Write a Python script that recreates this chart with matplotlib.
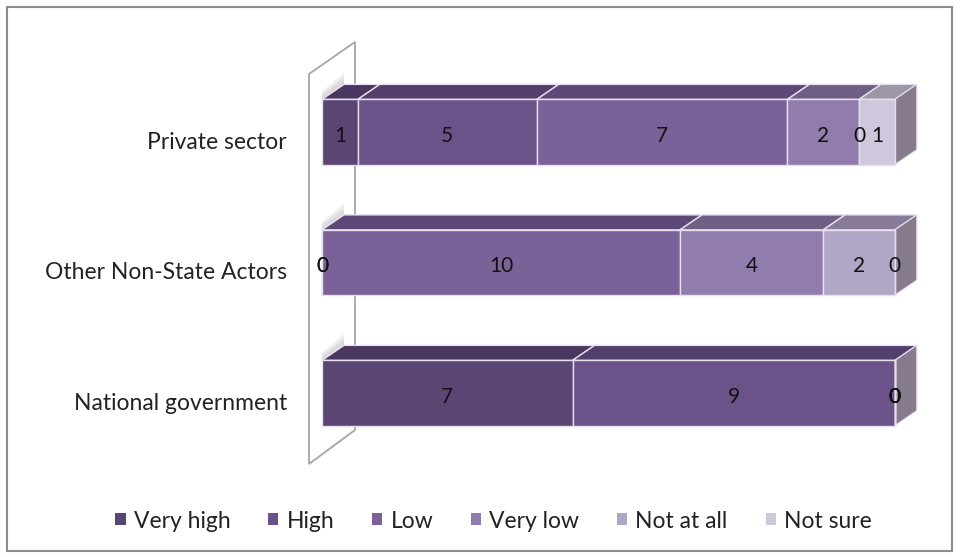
import matplotlib.pyplot as plt
from matplotlib.patches import Polygon, Patch, Rectangle

plt.rcParams['font.family'] = ['Lato', 'DejaVu Sans']

# data
categories = ["National government", "Other Non-State Actors", "Private sector"]
series = ["Very high", "High", "Low", "Very low", "Not at all", "Not sure"]
very_high = [7, 0, 1]
high = [9, 0, 5]
low = [0, 10, 7]
very_low = [0, 4, 2]
not_at_all = [0, 2, 0]
not_sure = [0, 0, 1]
values = [very_high, high, low, very_low, not_at_all, not_sure]

front_colors = ["#5b4573", "#6b5289", "#7a6198", "#917dad", "#b2a6c6", "#cfc7db"]
top_colors = ["#4a3760", "#533f6b", "#5d4878", "#705f84", "#877b98", "#9d95a8"]
side_color = "#857b8d"

W, H = 960, 557
fig = plt.figure(figsize=(W / 100, H / 100), dpi=100)

# pixel layout of the plotting region
x0_px, ppu = 322, 35.8          # x pixel of value 0, pixels per unit
y0_px, ppc = 393, 130.5         # y pixel of first category, pixels per category
left_px, right_px, top_px, bot_px = 295, 940, 35, 475
ax = fig.add_axes([left_px / W, 1 - bot_px / H, (right_px - left_px) / W, (bot_px - top_px) / H])
ax.set_xlim((left_px - x0_px) / ppu, (right_px - x0_px) / ppu)
ax.set_ylim((y0_px - bot_px) / ppc, (y0_px - top_px) / ppc)
ax.axis("off")

dx = 22 / ppu   # depth offset
dy = 15 / ppc
bar_h = 0.5

# back wall
wx0, wx1 = (309 - x0_px) / ppu, (355 - x0_px) / ppu
wall = Polygon([(wx0, (y0_px - 74) / ppc), (wx1, (y0_px - 42) / ppc),
                (wx1, (y0_px - 430) / ppc), (wx0, (y0_px - 464) / ppc)],
               closed=True, facecolor="white", edgecolor="#a6a6a6", lw=1.3, zorder=1)
ax.add_patch(wall)

ypos = list(range(len(categories)))

# soft shadow cast on the wall above each bar
for j in ypos:
    yt = ypos[j] + bar_h / 2
    for k, c in enumerate(["#f2f2f2", "#e6e6e6", "#dadada"]):
        h = 0.09 - 0.025 * k
        ax.add_patch(Polygon([(0, yt), (dx, yt + dy), (dx, yt + dy + h), (0, yt + h * 0.7)],
                             closed=True, facecolor=c, edgecolor="none", zorder=1.5))

lefts = [0] * len(categories)
for i, name in enumerate(series):
    vals = values[i]
    ax.barh(ypos, vals, left=lefts, height=bar_h, color=front_colors[i],
            edgecolor="#e6e0ee", lw=1, zorder=3, label=name)
    for j, v in enumerate(vals):
        yt = ypos[j] + bar_h / 2
        if v > 0:
            ax.add_patch(Polygon([(lefts[j], yt), (lefts[j] + v, yt),
                                  (lefts[j] + v + dx, yt + dy), (lefts[j] + dx, yt + dy)],
                                 closed=True, facecolor=top_colors[i], edgecolor="#e6e0ee",
                                 lw=1, zorder=2.5))
        ax.text(lefts[j] + v / 2, ypos[j] - 0.03, str(v), ha="center", va="center",
                fontsize=15, color="#111111", zorder=5)
    lefts = [lefts[j] + vals[j] for j in range(len(categories))]

# right end faces
for j in ypos:
    yb, yt = ypos[j] - bar_h / 2, ypos[j] + bar_h / 2
    ax.add_patch(Polygon([(lefts[j], yb), (lefts[j], yt), (lefts[j] + dx, yt + dy),
                          (lefts[j] + dx, yb + dy)], closed=True, facecolor=side_color,
                         edgecolor="#e6e0ee", lw=0.8, zorder=2.8))

# category labels
for j, name in enumerate(categories):
    ax.text((287 - x0_px) / ppu, ypos[j] - 0.077, name, ha="right", va="center",
            fontsize=16.5, color="#222222")

handles = [Patch(facecolor=front_colors[i], label=series[i]) for i in range(len(series))]
fig.legend(handles=handles, loc="center", bbox_to_anchor=(0.514, 1 - 521 / H), ncol=6,
           frameon=False, fontsize=16.5, handlelength=0.45, handleheight=0.45,
           handletextpad=0.35, columnspacing=1.65, labelcolor="#222222")

fig.patches.append(Rectangle((7 / W, 1 - 551 / H), 945 / W, 544 / H, transform=fig.transFigure,
                             fill=False, edgecolor="#8c8c8c", lw=1.5))

fig.savefig("out.png", dpi=100)
